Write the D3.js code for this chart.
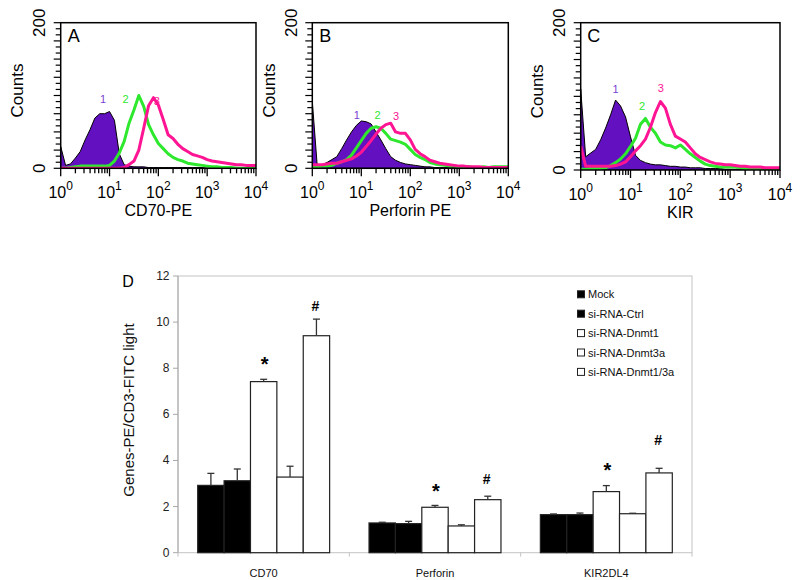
<!DOCTYPE html>
<html><head><meta charset="utf-8">
<script src="https://cdn.jsdelivr.net/npm/d3@7"></script>
<style>body{margin:0;background:#fff} svg{display:block}</style>
</head><body>
<svg id="c" width="800" height="580"></svg>
<script>
// ---------- Histogram data (channel position in log decades, counts) ----------
const histChannels = [0,0.1,0.2,0.3,0.4,0.5,0.6,0.7,0.8,0.9,1.0,1.1,1.2,1.3,1.4,1.5,1.6,1.7,1.8,1.9,2.0,2.1,2.2,2.3,2.4,2.5,2.6,2.7,2.8,2.9,3.0,3.1,3.2,3.3,3.4,3.5,3.6,3.7,3.8,3.9,4.0];
const histA1 = [30,4,6,14,23,39,53,69,75,75, 78,66,20,5,3,2,2,2,1,1, 1,1,1,1,1,1,1,1,1,1, 0,0,0,0,0,0,0,0,0,0,0];
const histA2 = [0,0,1,2,3,3,3,3,3,3, 4,10,21,37,62,80,100,85,60,46, 34,27,20,15,12,10,7,6,5,4, 3,2,2,1,1,1,0,0,0,0,0];
const histA3 = [0,0,0,0,0,0,0,0,0,0, 0,0,0,1,5,10,25,55,86,97, 87,67,46,41,33,27,23,19,17,15, 12,10,9,8,7,6,5,5,4,4,4];
const histB1 = [92,4,5,8,12,16,27,39,50,59, 65,64,61,50,39,27,16,11,8,6, 5,4,3,2,2,1,1,1,1,1, 0,0,0,0,0,0,0,0,0,0,0];
const histB2 = [2,2,3,3,4,7,9,12,18,28, 38,48,55,57,55,48,40,38,36,33, 26,19,15,12,8,6,5,4,3,3, 2,2,2,1,1,2,1,2,2,2,2];
const histB3 = [5,5,5,6,7,7,9,11,13,17, 22,30,38,47,55,60,62,50,48,48, 39,26,20,16,11,9,7,6,5,4, 3,3,2,2,2,1,1,1,1,1,1];
const histC1 = [110,18,23,28,41,57,75,95,87,72, 45,20,13,10,8,7,7,6,5,5, 4,4,3,3,3,2,2,2,2,1, 1,1,1,1,1,1,1,1,1,1,1];
const histC2 = [1,1,2,2,2,3,6,10,15,22, 32,43,62,70,58,50,38,34,33,30, 34,28,22,17,12,8,6,5,4,4, 4,4,3,2,2,1,1,1,1,1,1];
const histC3 = [32,5,5,5,5,5,5,6,8,11, 18,26,33,42,58,78,93,84,62,46, 42,38,30,22,17,14,11,9,8,7, 7,6,5,5,4,4,4,3,3,3,3];
const histTitles = ['CD70-PE','Perforin PE','KIR'];
const histLetters = ['A','B','C'];
const histDecadeTicks = [0,1,2,3,4];
const countTicks = [0,200];
// peak labels [decade, count]
const peakLabelsA = [[0.87,95],[1.33,95],[1.97,92]];
const peakLabelsB = [[0.91,73],[1.33,73],[1.71,72]];
const peakLabelsC = [[0.70,110],[1.23,87],[1.61,111]];

// ---------- Bar chart data ----------
const barCategories = ['CD70','Perforin','KIR2DL4'];
const barSeries = ['Mock','si-RNA-Ctrl','si-RNA-Dnmt1','si-RNA-Dnmt3a','si-RNA-Dnmt1/3a'];
const mockValues    = [2.92,1.29,1.65];
const ctrlValues    = [3.12,1.26,1.65];
const dnmt1Values   = [7.42,1.97,2.65];
const dnmt3aValues  = [3.28,1.16,1.69];
const dnmt13aValues = [9.41,2.30,3.46];
const mockErr    = [0.52,0.03,0.03];
const ctrlErr    = [0.51,0.10,0.07];
const dnmt1Err   = [0.10,0.08,0.26];
const dnmt3aErr  = [0.47,0.05,0.02];
const dnmt13aErr = [0.72,0.15,0.20];
const starPos = [8.4,2.89,3.77];   // "*" above Dnmt1
const hashPos = [10.71,3.2,4.93];  // "#" above Dnmt1/3a
const barYTicks = [0,2,4,6,8,10,12];

const svg = d3.select('#c');
const ARIAL = 'Liberation Sans, Arial, sans-serif';
const NARROW = 'Liberation Sans Narrow, Liberation Sans, Arial, sans-serif';

// ---------- Histograms ----------
const histGeom = [
  {left:60.7, right:256, top:22.7, bottom:168.3},
  {left:312.3, right:508.3, top:22.7, bottom:168.3},
  {left:580.7, right:780, top:22.7, bottom:170}
];
const histData = [[histA1,histA2,histA3],[histB1,histB2,histB3],[histC1,histC2,histC3]];
const peakLabels = [peakLabelsA,peakLabelsB,peakLabelsC];
const purple = '#6210c0', green = '#2ee82e', pink = '#ff1493';
const labelColors = ['#7a3fd0', green, pink];

histGeom.forEach((g,pi) => {
  const x = d3.scaleLog().domain([1,10000]).range([g.left,g.right]);
  const y = d3.scaleLinear().domain([0,200]).range([g.bottom,g.top]);
  const gp = svg.append('g');
  const clipId = 'clip'+pi;
  gp.append('clipPath').attr('id',clipId).append('rect')
    .attr('x',g.left).attr('y',g.top).attr('width',g.right-g.left).attr('height',g.bottom-g.top);
  const pts = s => histChannels.map((d,i)=>[Math.pow(10,d), s[i]]);
  const area = d3.area().x(d=>x(d[0])).y0(y(0)).y1(d=>y(d[1]));
  const line = d3.line().x(d=>x(d[0])).y(d=>y(d[1]));
  const cg = gp.append('g').attr('clip-path',`url(#${clipId})`);
  const [s1,s2,s3] = histData[pi];
  cg.append('path').attr('d',area(pts(s1))).attr('fill',purple).attr('stroke','#000').attr('stroke-width',1);
  cg.append('path').attr('d',line(pts(s2))).attr('fill','none').attr('stroke',green).attr('stroke-width',3).attr('stroke-linejoin','round');
  cg.append('path').attr('d',line(pts(s3))).attr('fill','none').attr('stroke',pink).attr('stroke-width',3).attr('stroke-linejoin','round');

  // frame
  gp.append('rect').attr('x',g.left).attr('y',g.top).attr('width',g.right-g.left).attr('height',g.bottom-g.top)
    .attr('fill','none').attr('stroke','#000').attr('stroke-width',1.5);

  // x ticks (log minor)
  const ticks = [];
  for (let dec=0; dec<4; dec++) for (let m=1; m<10; m++) ticks.push([m*Math.pow(10,dec), m===1]);
  ticks.push([10000,true]);
  gp.selectAll('line.xt').data(ticks).join('line')
    .attr('x1',d=>x(d[0])).attr('x2',d=>x(d[0]))
    .attr('y1',g.bottom).attr('y2',d=>g.bottom+(d[1]?8:5))
    .attr('stroke','#000').attr('stroke-width',1.3);
  // y ticks
  const yt = d3.range(0,25).map(i=>i*200/24);
  gp.selectAll('line.yt').data(yt).join('line')
    .attr('x1',g.left).attr('x2',(d,i)=>g.left-(i%3===0?7:5))
    .attr('y1',d=>y(d)).attr('y2',d=>y(d))
    .attr('stroke','#000').attr('stroke-width',1.2);

  // x tick labels
  histDecadeTicks.forEach(dec => {
    const t = gp.append('text').attr('x',x(Math.pow(10,dec))).attr('y',g.bottom+30)
      .attr('text-anchor','middle').attr('font-family',ARIAL).attr('font-size',16).attr('fill','#000');
    t.append('tspan').text('10');
    t.append('tspan').attr('dy',-8).attr('font-size',12).text(dec);
  });
  // y tick labels (rotated)
  countTicks.forEach(c => {
    gp.append('text').attr('transform',`translate(${g.left-21},${y(c)}) rotate(-90)`)
      .attr('text-anchor','middle').attr('dominant-baseline','central')
      .attr('font-family',ARIAL).attr('font-size',17).text(c);
  });
  gp.append('text').attr('transform',`translate(${g.left-43},${(g.top+g.bottom)/2-5}) rotate(-90)`)
    .attr('text-anchor','middle').attr('dominant-baseline','central')
    .attr('font-family',NARROW).attr('font-size',17).text('Counts');
  // x title
  gp.append('text').attr('x',(g.left+g.right)/2).attr('y',g.bottom+48)
    .attr('text-anchor','middle').attr('font-family',ARIAL).attr('font-size',16).text(histTitles[pi]);
  // letter
  gp.append('text').attr('x',g.left+13).attr('y',g.top+19).attr('text-anchor','middle')
    .attr('font-family',ARIAL).attr('font-size',18).text(histLetters[pi]);
  // peak labels
  peakLabels[pi].forEach((p,i) => {
    gp.append('text').attr('x',x(Math.pow(10,p[0]))).attr('y',y(p[1]))
      .attr('text-anchor','middle').attr('dominant-baseline','central')
      .attr('font-family',ARIAL).attr('font-size',11).attr('fill',labelColors[i]).text(i+1);
  });
});

// ---------- Bar chart ----------
const seriesValues = [mockValues,ctrlValues,dnmt1Values,dnmt3aValues,dnmt13aValues];
const seriesErr = [mockErr,ctrlErr,dnmt1Err,dnmt3aErr,dnmt13aErr];
const seriesFill = ['#000','#000','#fff','#fff','#fff'];
const pl = 178, pr = 692, pt = 276, pb = 552.7;
const xb = d3.scaleBand().domain(barCategories).range([pl,pr]).padding(0);
const xs = d3.scaleBand().domain(barSeries).range([19.7, xb.bandwidth()-19.7]).padding(0);
const yb = d3.scaleLinear().domain([0,12]).range([pb,pt]);
const bg = svg.append('g');

// plot border
bg.append('rect').attr('x',pl).attr('y',pt).attr('width',pr-pl).attr('height',pb-pt)
  .attr('fill','none').attr('stroke','#c4c4c4').attr('stroke-width',1);
bg.append('line').attr('x1',pl).attr('x2',pl).attr('y1',pt).attr('y2',pb).attr('stroke','#a8a8a8');
// y axis ticks + labels
barYTicks.forEach(t => {
  bg.append('line').attr('x1',pl-5).attr('x2',pl).attr('y1',yb(t)).attr('y2',yb(t)).attr('stroke','#a8a8a8');
  bg.append('text').attr('x',pl-8.5).attr('y',yb(t)).attr('text-anchor','end').attr('dominant-baseline','central')
    .attr('font-family',ARIAL).attr('font-size',12).attr('fill','#222').text(t);
});
// x axis ticks at band edges
barCategories.concat(['_end']).forEach((c,i) => {
  const xx = i<barCategories.length ? xb(c) : pr;
  bg.append('line').attr('x1',xx).attr('x2',xx).attr('y1',pb).attr('y2',pb+4).attr('stroke','#c4c4c4');
});
// bars
barCategories.forEach((cat,ci) => {
  barSeries.forEach((s,si) => {
    const v = seriesValues[si][ci], e = seriesErr[si][ci];
    const x0 = xb(cat)+xs(s), w = xs.bandwidth();
    bg.append('rect').attr('x',x0).attr('y',yb(v)).attr('width',w).attr('height',yb(0)-yb(v))
      .attr('fill',seriesFill[si]).attr('stroke','#222').attr('stroke-width',1.2);
    const cx = x0+w/2;
    bg.append('line').attr('x1',cx).attr('x2',cx).attr('y1',yb(v)).attr('y2',yb(v+e)).attr('stroke','#333').attr('stroke-width',1.3);
    bg.append('line').attr('x1',cx-3.5).attr('x2',cx+3.5).attr('y1',yb(v+e)).attr('y2',yb(v+e)).attr('stroke','#333').attr('stroke-width',1.3);
  });
  const sx = xb(cat)+xs('si-RNA-Dnmt1')+xs.bandwidth()/2;
  bg.append('text').attr('x',sx+1).attr('y',yb(starPos[ci])+11.5).attr('text-anchor','middle')
    .attr('font-family',ARIAL).attr('font-weight','bold').attr('font-size',20).text('*');
  const hx = xb(cat)+xs('si-RNA-Dnmt1/3a')+xs.bandwidth()/2;
  bg.append('text').attr('x',hx-1).attr('y',yb(hashPos[ci])+5.5).attr('text-anchor','middle')
    .attr('font-family',ARIAL).attr('font-weight','bold').attr('font-size',14).text('#');
  bg.append('text').attr('x',xb(cat)+xb.bandwidth()/2).attr('y',573).attr('text-anchor','middle')
    .attr('dominant-baseline','central').attr('font-family',ARIAL).attr('font-size',11).attr('fill','#111').text(cat);
});
// legend
barSeries.forEach((s,i) => {
  const ly = 294.3 + i*19.4;
  bg.append('rect').attr('x',577.5).attr('y',ly-3.5).attr('width',7).attr('height',7)
    .attr('fill',seriesFill[i]).attr('stroke','#222').attr('stroke-width',1);
  bg.append('text').attr('x',588).attr('y',ly).attr('dominant-baseline','central')
    .attr('font-family',ARIAL).attr('font-size',11).attr('fill','#111').text(s);
});
// y title and letter
bg.append('text').attr('transform',`translate(128,410) rotate(-90)`).attr('text-anchor','middle')
  .attr('dominant-baseline','central').attr('font-family',ARIAL).attr('font-size',15).attr('fill','#111')
  .text('Genes-PE/CD3-FITC light');
bg.append('text').attr('x',128).attr('y',281).attr('text-anchor','middle').attr('dominant-baseline','central')
  .attr('font-family',ARIAL).attr('font-size',16).text('D');
</script>
</body></html>
